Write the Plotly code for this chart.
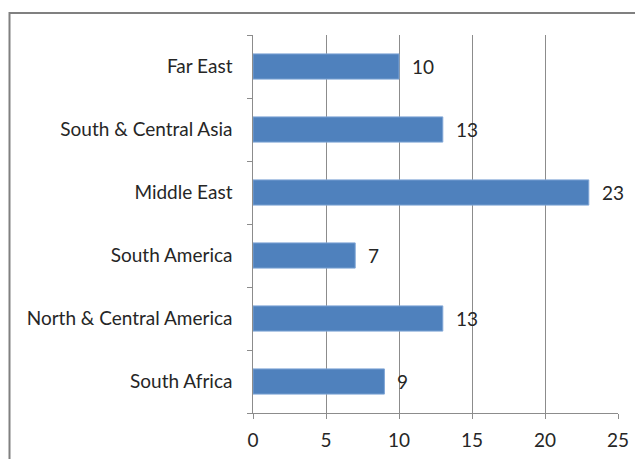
import plotly.graph_objects as go

categories = ["South Africa", "North & Central America", "South America",
              "Middle East", "South & Central Asia", "Far East"]
values = [9, 13, 7, 23, 13, 10]
x_ticks = [0, 5, 10, 15, 20, 25]

FONT = "Lato, 'Open Sans', sans-serif"
TXT = "#262626"
FS = 19

fig = go.Figure()
fig.add_trace(go.Bar(
    y=categories, x=values, orientation="h",
    marker=dict(color="#4F81BD", line=dict(color="#7FA5D6", width=1)),
    width=0.4, hoverinfo="x+y",
))

for c, v in zip(categories, values):
    fig.add_annotation(x=v, y=c, text=str(v), showarrow=False,
                       xanchor="left", xshift=11,
                       font=dict(family=FONT, size=FS, color=TXT))

# outer chart border (page has 8px body margin)
fig.add_shape(type="rect", xref="paper", yref="paper",
              x0=(9.5 - 253) / 365, x1=(660 - 253) / 365,
              y0=(413 - 480) / 378, y1=(413 - 13) / 378,
              line=dict(color="#808080", width=2), fillcolor="rgba(0,0,0,0)",
              layer="below")

fig.update_layout(
    width=635, height=451,
    margin=dict(l=245, r=25, t=27, b=46, autoexpand=False),
    paper_bgcolor="white", plot_bgcolor="white",
    showlegend=False,
    font=dict(family=FONT, size=FS, color=TXT),
    xaxis=dict(range=[0, 25], tickvals=x_ticks, showgrid=True,
               gridcolor="#8C8C8C", gridwidth=1, zeroline=False,
               showline=True, linecolor="#8C8C8C", linewidth=1,
               ticks="outside", ticklen=5, tickcolor="#8C8C8C",
               ticklabelstandoff=5, automargin=False,
               tickfont=dict(family=FONT, size=FS, color=TXT), fixedrange=True),
    yaxis=dict(type="category", categoryorder="array", categoryarray=categories,
               showline=True, linecolor="#8C8C8C", linewidth=1,
               ticks="outside", ticklen=5, tickcolor="#8C8C8C",
               tickson="boundaries", showgrid=False, ticksuffix="  ",
               ticklabelstandoff=6, automargin=False,
               tickfont=dict(family=FONT, size=FS, color=TXT), fixedrange=True),
)

fig.write_html("out.html")
